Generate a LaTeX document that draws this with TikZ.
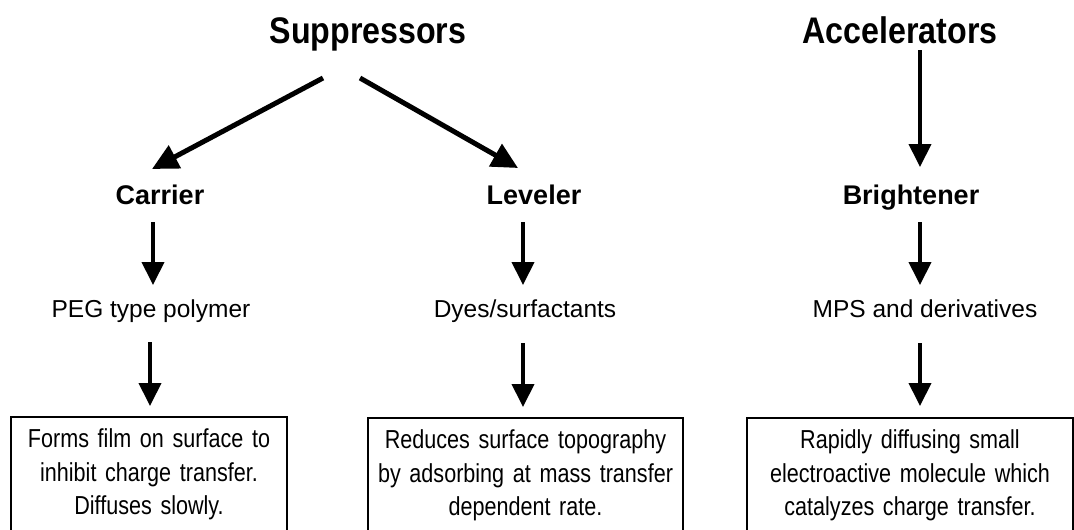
\documentclass[tikz,border=0pt]{standalone}
\usepackage{fontspec}
\setmainfont{Liberation Sans}
\newfontfamily\headfont[FakeStretch=0.87]{Liberation Sans}
\newfontfamily\boxfont[FakeStretch=0.83]{Liberation Sans}
\usepackage{tikz}
\usetikzlibrary{
	positioning,
	arrows.meta
}

\begin{document}
\begin{tikzpicture}[x=1pt,y=-1pt,
		head/.style={anchor=base,inner sep=0pt,font=\headfont\bfseries\fontsize{37}{44}\selectfont},
		sub/.style={anchor=base,inner sep=0pt,font=\bfseries\fontsize{27}{32}\selectfont},
		item/.style={anchor=base,inner sep=0pt,font=\fontsize{24.5}{29}\selectfont},
		box/.style={draw,line width=1.5pt,anchor=north,align=center,text width=#1,
			inner xsep=0pt,inner ysep=12pt,font=\boxfont\fontsize{26}{33.5}\selectfont},
		arr/.style={line width=4pt,-{Triangle[width=22pt,length=23pt]}},
		darr/.style={line width=5pt,-{Triangle[width=25pt,length=26pt]}}
	]
	\useasboundingbox (0,0) rectangle (1074,530);
	\clip (0,0) rectangle (1074,530);
	\draw
		node [head]           (sup) at (368,43)    {Suppressors}
		node [head]           (acc) at (900,43)    {Accelerators}
		node [sub]            (car) at (160,204)   {Carrier}
		node [sub]            (lev) at (534,204)   {Leveler}
		node [sub]            (bri) at (911,204)   {Brightener}
		node [item]           (peg) at (151,317)   {PEG type polymer}
		node [item]           (dye) at (525,317)   {Dyes/surfactants}
		node [item]           (mps) at (925,317)   {MPS and derivatives}
		node [box=276pt]      (fx1) at (149,416)   {Forms film on surface to\\inhibit charge transfer.\\Diffuses slowly.}
		node [box=315pt]      (fx2) at (525.5,417) {Reduces surface topography\\by adsorbing at mass transfer\\dependent rate.}
		node [box=326pt]      (fx3) at (910,417)   {Rapidly diffusing small\\electroactive molecule which\\catalyzes charge transfer.}
		([shift={(-45pt,-35pt)}]sup.base) edge[darr] ([shift={(-8pt,35pt)}]car.base)
		([shift={(-8pt,-35pt)}]sup.base)  edge[darr] ([shift={(-16pt,36pt)}]lev.base)
		([shift={(20pt,-7pt)}]acc.base)   edge[arr]  ([shift={(9pt,37pt)}]bri.base)
		([shift={(-7pt,-18pt)}]car.base)  edge[arr]  ([shift={(2pt,32pt)}]peg.base)
		([shift={(-11pt,-18pt)}]lev.base) edge[arr]  ([shift={(-2pt,32pt)}]dye.base)
		([shift={(9pt,-18pt)}]bri.base)   edge[arr]  ([shift={(-5pt,32pt)}]mps.base)
		([shift={(-1pt,-25pt)}]peg.base)  edge[arr]  ([shift={(1pt,10pt)}]fx1.north)
		([shift={(-2pt,-26pt)}]dye.base)  edge[arr]  ([shift={(-2.5pt,10pt)}]fx2.north)
		([shift={(-5pt,-26pt)}]mps.base)  edge[arr]  ([shift={(10pt,11pt)}]fx3.north)
	;
\end{tikzpicture}
\end{document}
